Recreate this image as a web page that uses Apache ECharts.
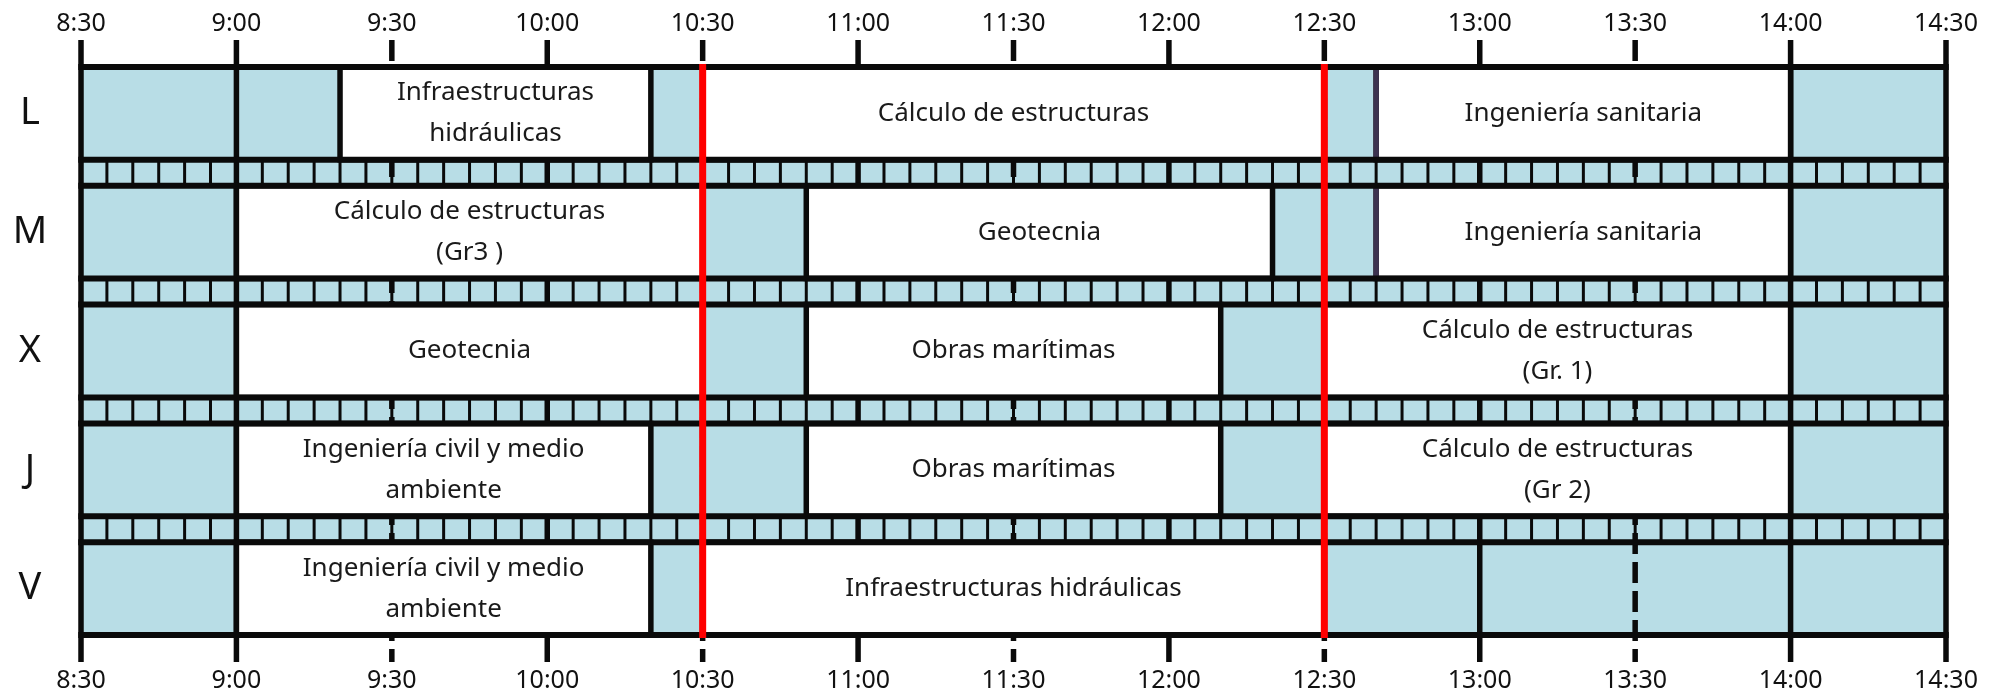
<!DOCTYPE html>
<html>
<head>
<meta charset="utf-8">
<script src="https://cdn.jsdelivr.net/npm/echarts@6/dist/echarts.min.js"></script>
<style>
html,body{margin:0;padding:0;background:#ffffff;}
#chart{width:2003px;height:696px;}
</style>
</head>
<body>
<div id="chart"></div>
<script>
// ---- data ----
const days = ['L', 'M', 'X', 'J', 'V'];
const tickLabels = ['8:30','9:00','9:30','10:00','10:30','11:00','11:30','12:00','12:30','13:00','13:30','14:00','14:30'];

const courseNames = [
  'Infraestructuras\nhidráulicas', 'Cálculo de estructuras', 'Ingeniería sanitaria',
  'Cálculo de estructuras\n(Gr3 )', 'Geotecnia', 'Ingeniería sanitaria',
  'Geotecnia', 'Obras marítimas', 'Cálculo de estructuras\n(Gr. 1)',
  'Ingeniería civil y medio\nambiente', 'Obras marítimas', 'Cálculo de estructuras\n(Gr 2)',
  'Ingeniería civil y medio\nambiente', 'Infraestructuras hidráulicas'
];
const courseDays = ['L','L','L', 'M','M','M', 'X','X','X', 'J','J','J', 'V','V'];
const courseStarts = ['9:20','10:30','12:40', '9:00','10:50','12:40', '9:00','10:50','12:30', '9:00','10:50','12:30', '9:00','10:30'];
const courseEnds   = ['10:20','12:30','14:00', '10:30','12:20','14:00', '10:30','12:10','14:00', '10:20','12:10','14:00', '10:20','12:30'];

const redLineTimes = ['10:30', '12:30'];
const accentEdgeTime = '12:40';
const accentEdgeDays = ['L', 'M'];
const slotMinutes = 5;

// ---- helpers / style ----
const T = s => { const p = s.split(':').map(Number); return p[0] * 60 + p[1]; };
const STRIPE = 0.28;
const rowTop = i => i * (1 + STRIPE);
const X0 = T(tickLabels[0]);
const X1 = T(tickLabels[tickLabels.length - 1]);
const Y1 = days.length + (days.length - 1) * STRIPE;
const BLUE = '#b8dde6';
const INK = '#0a0a0a';
const TICK = 27;
const FONT = '"Noto Sans", "Open Sans", sans-serif';

const slotMarks = [];
for (let t = X0 + slotMinutes; t < X1; t += slotMinutes) slotMarks.push([t]);

const boundaries = [];
days.forEach((d, i) => { boundaries.push([rowTop(i)]); boundaries.push([rowTop(i) + 1]); });

const chart = echarts.init(document.getElementById('chart'), null, { renderer: 'canvas' });

const xAxisBase = {
  type: 'value', min: X0, max: X1, interval: 30,
  axisLine: { show: false }, axisTick: { show: false }, splitLine: { show: false },
  axisLabel: {
    show: true, showMinLabel: true, showMaxLabel: true,
    fontFamily: FONT, fontSize: 25, color: '#111111',
    formatter: v => tickLabels[Math.round((v - X0) / 30)]
  }
};

chart.setOption({
  animation: false,
  backgroundColor: '#ffffff',
  grid: { left: 81, right: 57, top: 67, bottom: 61, containLabel: false, outerBoundsMode: 'none' },
  xAxis: [
    Object.assign({}, xAxisBase, { position: 'bottom', axisLabel: Object.assign({}, xAxisBase.axisLabel, { margin: 33 }) }),
    Object.assign({}, xAxisBase, { position: 'top', axisLabel: Object.assign({}, xAxisBase.axisLabel, { margin: 31 }) })
  ],
  yAxis: {
    type: 'value', min: 0, max: Y1, inverse: true,
    axisLine: { show: false }, axisTick: { show: false }, splitLine: { show: false },
    axisLabel: {
      show: true,
      customValues: days.map((d, i) => rowTop(i) + 0.5),
      formatter: v => days[Math.round((v - 0.5) / (1 + STRIPE))],
      fontFamily: FONT, fontSize: 38, color: '#111111', align: 'center', margin: 51
    }
  },
  series: [
    { // row + stripe background
      type: 'custom', z: 1, silent: true, clip: false,
      data: days.map((d, i) => [i]),
      renderItem: (params, api) => {
        const i = api.value(0);
        const a = api.coord([X0, rowTop(i)]);
        const b = api.coord([X1, rowTop(i) + 1 + (i < days.length - 1 ? STRIPE : 0)]);
        return { type: 'rect', shape: { x: a[0], y: a[1], width: b[0] - a[0], height: b[1] - a[1] }, style: { fill: BLUE } };
      }
    },
    { // 5-minute separators in the stripes
      type: 'custom', z: 2, silent: true, clip: false,
      data: slotMarks,
      renderItem: (params, api) => {
        const t = api.value(0);
        const children = [];
        for (let i = 0; i < days.length - 1; i++) {
          const a = api.coord([t, rowTop(i) + 1]);
          const b = api.coord([t, rowTop(i) + 1 + STRIPE]);
          children.push({ type: 'line', shape: { x1: a[0], y1: a[1], x2: b[0], y2: b[1] }, style: { stroke: INK, lineWidth: 3 } });
        }
        return { type: 'group', children };
      }
    },
    { // half-hour grid lines + ticks
      type: 'custom', z: 3, silent: true, clip: false,
      data: tickLabels.map(l => [T(l)]),
      renderItem: (params, api) => {
        const t = api.value(0);
        const a = api.coord([t, 0]);
        const b = api.coord([t, Y1]);
        const solid = (t % 60 === 0) || t === X0 || t === X1;
        return { type: 'line', shape: { x1: a[0], y1: a[1] - TICK, x2: b[0], y2: b[1] + TICK },
          style: { stroke: INK, lineWidth: 5.5, lineDash: solid ? null : [21, 8] } };
      }
    },
    { // courses
      type: 'custom', z: 4, silent: true, clip: false,
      data: courseNames.map((n, k) => [T(courseStarts[k]), T(courseEnds[k]), days.indexOf(courseDays[k])]),
      renderItem: (params, api) => {
        const i = api.value(2);
        const a = api.coord([api.value(0), rowTop(i)]);
        const b = api.coord([api.value(1), rowTop(i) + 1]);
        return { type: 'group', children: [
          { type: 'rect', shape: { x: a[0], y: a[1], width: b[0] - a[0], height: b[1] - a[1] },
            style: { fill: '#ffffff', stroke: INK, lineWidth: 5.5 } },
          { type: 'text', style: { text: courseNames[params.dataIndex], x: (a[0] + b[0]) / 2, y: (a[1] + b[1]) / 2,
            align: 'center', verticalAlign: 'middle', fontFamily: FONT, fontSize: 26, lineHeight: 41, fill: '#1a1a1a' } }
        ] };
      }
    },
    { // accent edges
      type: 'custom', z: 5, silent: true, clip: false,
      data: accentEdgeDays.map(d => [T(accentEdgeTime), days.indexOf(d)]),
      renderItem: (params, api) => {
        const i = api.value(1);
        const a = api.coord([api.value(0), rowTop(i)]);
        const b = api.coord([api.value(0), rowTop(i) + 1]);
        return { type: 'line', shape: { x1: a[0], y1: a[1], x2: b[0], y2: b[1] }, style: { stroke: '#3d3350', lineWidth: 5.5 } };
      }
    },
    { // horizontal row borders
      type: 'custom', z: 6, silent: true, clip: false,
      data: boundaries,
      renderItem: (params, api) => {
        const y = api.value(0);
        const a = api.coord([X0, y]);
        const b = api.coord([X1, y]);
        return { type: 'line', shape: { x1: a[0] - 2.75, y1: a[1], x2: b[0] + 2.75, y2: b[1] }, style: { stroke: INK, lineWidth: 6 } };
      }
    },
    { // red markers
      type: 'custom', z: 7, silent: true, clip: false,
      data: redLineTimes.map(s => [T(s)]),
      renderItem: (params, api) => {
        const t = api.value(0);
        const a = api.coord([t, 0]);
        const b = api.coord([t, Y1]);
        return { type: 'line', shape: { x1: a[0], y1: a[1] - 3, x2: b[0], y2: b[1] + 3 }, style: { stroke: '#ff0000', lineWidth: 7 } };
      }
    }
  ]
});
</script>
</body>
</html>
